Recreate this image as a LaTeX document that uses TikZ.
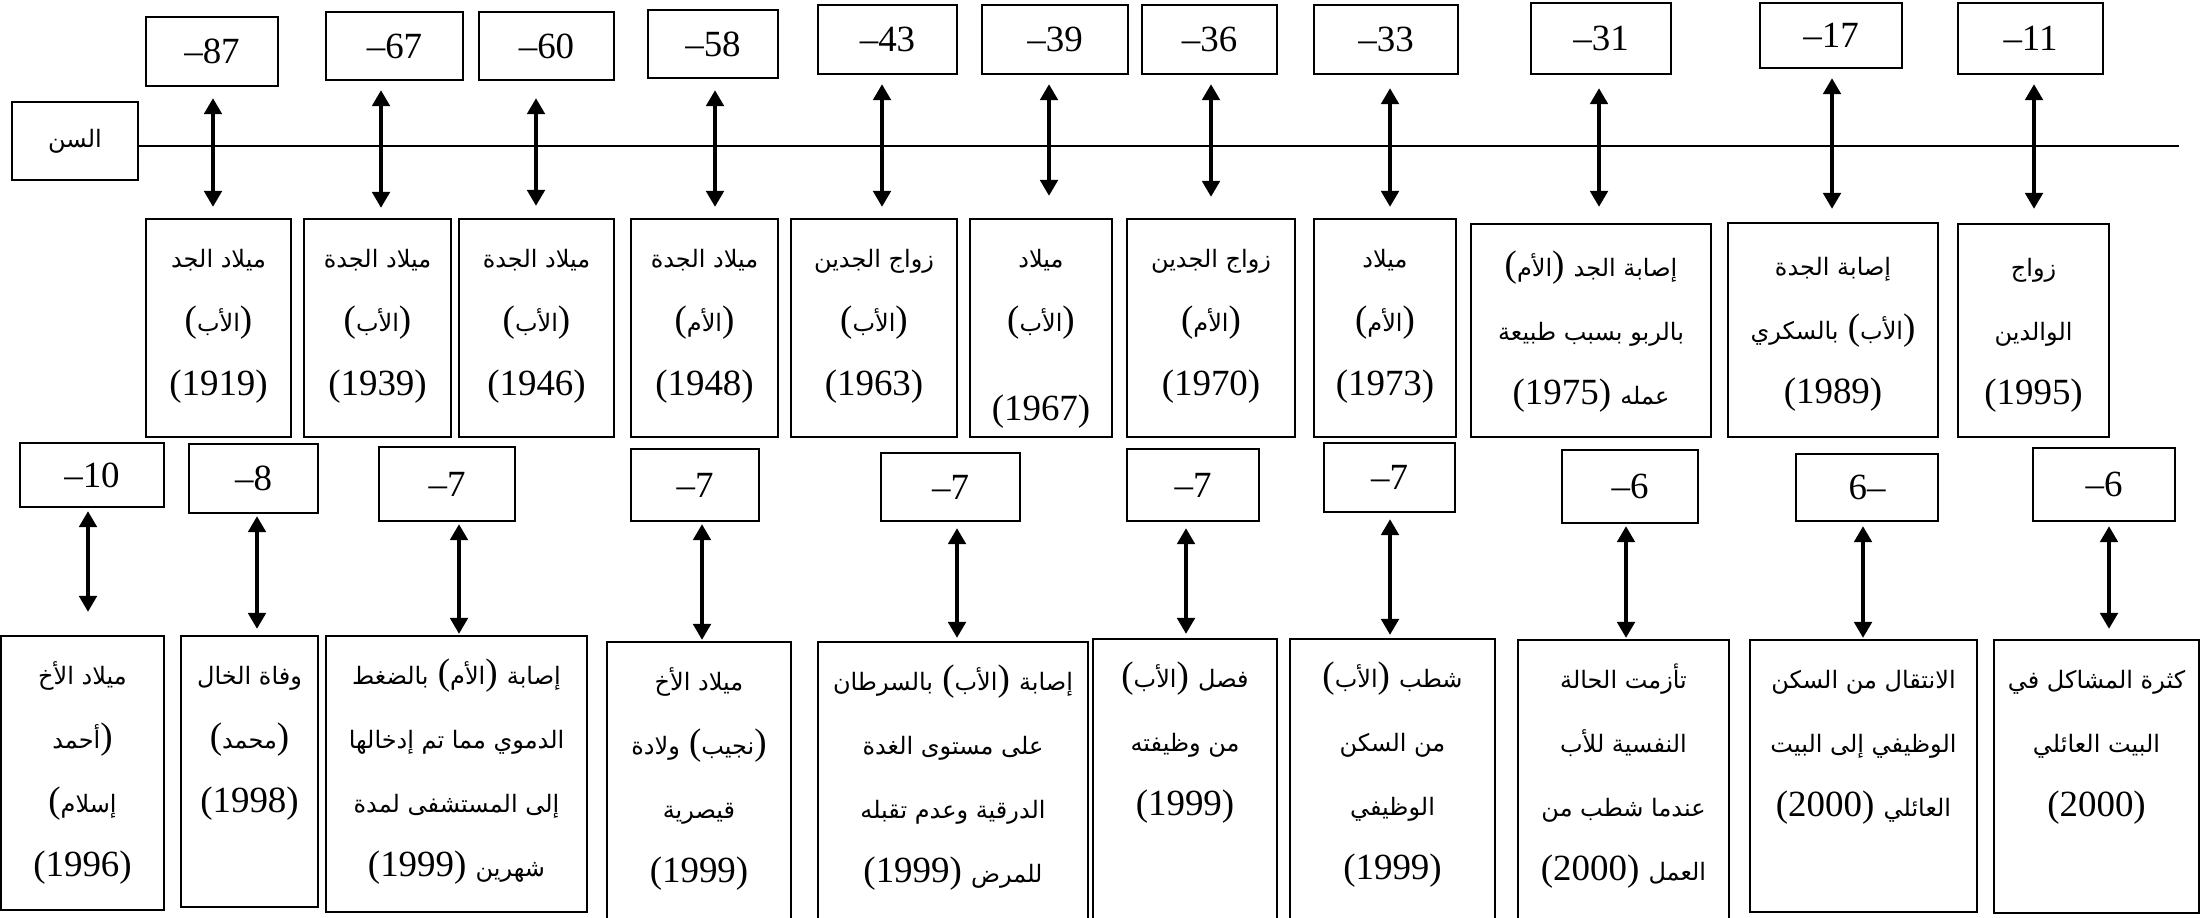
\documentclass[tikz,border=0pt]{standalone}
\usepackage{fontspec}
\setmainfont{Liberation Serif}
\newfontfamily\arabicfont[Script=Arabic,Scale=0.65]{DejaVu Sans}
\TeXXeTstate=1
\usetikzlibrary{arrows.meta}

% Arabic run, right-to-left line, parenthesised group kept left-to-right
\newcommand\arw[1]{{\arabicfont #1}}
\newcommand\rtlrow[1]{\beginR#1\endR}
\newcommand\inpar[1]{\beginL(#1)\endL}
\newcommand\firstline{\rule{0pt}{14pt}}
\newcommand\valfont{\fontsize{10.5}{12}\selectfont}
\newcommand\evfont{\fontsize{10.5}{18.2}\selectfont}

% rectangle node given by its corners (x1,y1) (x2,y2)
\newcommand\boxnode[6]{\node[#1, minimum width={(#5-#3)*0.01cm}, minimum height={(#6-#4)*0.01cm}] (#2) at ({(#3+#5)/2},{(#4+#6)/2})}
% double arrow between a value box and its event box at a given x
\newcommand\linkv[5]{\coordinate (#1x) at (#3,0);
  \draw[link, shorten <=#4, shorten >=#5] (#1.south -| #1x) -- (#2.north -| #1x);}

\begin{document}
\begin{tikzpicture}[x=0.01cm, y=-0.01cm,
  every node/.style={inner sep=0pt},
  frame/.style={draw, line width=0.7pt},
  valbox/.style={frame, font=\valfont},
  evbox/.style={frame},
  evtext/.style={anchor=north, align=center, font=\evfont},
  tline/.style={line width=0.7pt},
  link/.style={line width=0.9pt, {Triangle[length=4.5pt,width=5pt]}-{Triangle[length=4.5pt,width=5pt]}}]

\path[fill=white, use as bounding box] (0,0) rectangle (2201,917);

% age axis
\boxnode{valbox}{age}{12}{102}{138}{180} {\arw{\beginR السن\endR}};
\coordinate (lineend) at (2179,146);
\draw[tline] (age.east |- lineend) -- (lineend);

% ---------- upper row: ages ----------
\boxnode{valbox}{t1}{146}{17}{278}{86} {–87};
\boxnode{valbox}{t2}{326}{12}{463}{80} {–67};
\boxnode{valbox}{t3}{479}{12}{614}{80} {–60};
\boxnode{valbox}{t4}{648}{10}{778}{78} {–58};
\boxnode{valbox}{t5}{818}{5}{957}{74} {–43};
\boxnode{valbox}{t6}{982}{5}{1128}{74} {–39};
\boxnode{valbox}{t7}{1142}{5}{1277}{74} {–36};
\boxnode{valbox}{t8}{1314}{5}{1458}{74} {–33};
\boxnode{valbox}{t9}{1531}{3}{1671}{74} {–31};
\boxnode{valbox}{t10}{1760}{3}{1902}{68} {–17};
\boxnode{valbox}{t11}{1958}{3}{2103}{74} {–11};

% ---------- upper row: events ----------
\boxnode{evbox}{e1}{146}{219}{291}{437} {};
\boxnode{evbox}{e2}{304}{219}{451}{437} {};
\boxnode{evbox}{e3}{459}{219}{614}{437} {};
\boxnode{evbox}{e4}{631}{219}{778}{437} {};
\boxnode{evbox}{e5}{791}{219}{957}{437} {};
\boxnode{evbox}{e6}{970}{219}{1112}{437} {};
\boxnode{evbox}{e7}{1127}{219}{1295}{437} {};
\boxnode{evbox}{e8}{1314}{219}{1456}{437} {};
\boxnode{evbox}{e9}{1471}{224}{1711}{437} {};
\boxnode{evbox}{e10}{1728}{223}{1938}{437} {};
\boxnode{evbox}{e11}{1958}{224}{2109}{437} {};

\node[evtext] (e1t) at (e1.north) {\firstline\rtlrow{\arw{ميلاد الجد}}\\\rtlrow{\inpar{\arw{الأب}}}\\(1919)};
\node[evtext] (e2t) at (e2.north) {\firstline\rtlrow{\arw{ميلاد الجدة}}\\\rtlrow{\inpar{\arw{الأب}}}\\(1939)};
\node[evtext] (e3t) at (e3.north) {\firstline\rtlrow{\arw{ميلاد الجدة}}\\\rtlrow{\inpar{\arw{الأب}}}\\(1946)};
\node[evtext] (e4t) at (e4.north) {\firstline\rtlrow{\arw{ميلاد الجدة}}\\\rtlrow{\inpar{\arw{الأم}}}\\(1948)};
\node[evtext] (e5t) at (e5.north) {\firstline\rtlrow{\arw{زواج الجدين}}\\\rtlrow{\inpar{\arw{الأب}}}\\(1963)};
\node[evtext] (e6t) at (e6.north) {\firstline\rtlrow{\arw{ميلاد}}\\\rtlrow{\inpar{\arw{الأب}}}\\[0.25cm](1967)};
\node[evtext] (e7t) at (e7.north) {\firstline\rtlrow{\arw{زواج الجدين}}\\\rtlrow{\inpar{\arw{الأم}}}\\(1970)};
\node[evtext] (e8t) at (e8.north) {\firstline\rtlrow{\arw{ميلاد}}\\\rtlrow{\inpar{\arw{الأم}}}\\(1973)};
\node[evtext, yshift=-0.04cm] (e9t) at (e9.north) {\firstline\rtlrow{\arw{إصابة الجد} \inpar{\arw{الأم}}}\\\rtlrow{\arw{بالربو بسبب طبيعة}}\\\rtlrow{\arw{عمله} \inpar{1975}}};
\node[evtext, yshift=-0.04cm] (e10t) at (e10.north) {\firstline\rtlrow{\arw{إصابة الجدة}}\\\rtlrow{\inpar{\arw{الأب}} \arw{بالسكري}}\\(1989)};
\node[evtext, yshift=-0.04cm] (e11t) at (e11.north) {\firstline\rtlrow{\arw{زواج}}\\\rtlrow{\arw{الوالدين}}\\(1995)};

% ---------- lower row: ages ----------
\boxnode{valbox}{v1}{20}{443}{164}{507} {–10};
\boxnode{valbox}{v2}{189}{444}{318}{513} {–8};
\boxnode{valbox}{v3}{379}{447}{515}{521} {–7};
\boxnode{valbox}{v4}{631}{449}{759}{521} {–7};
\boxnode{valbox}{v5}{881}{453}{1020}{521} {–7};
\boxnode{valbox}{v6}{1127}{449}{1259}{521} {–7};
\boxnode{valbox}{v7}{1324}{443}{1455}{512} {–7};
\boxnode{valbox}{v8}{1562}{450}{1698}{523} {–6};
\boxnode{valbox}{v9}{1796}{454}{1938}{521} {\beginL 6\kern0pt–\endL};
\boxnode{valbox}{v10}{2033}{448}{2175}{521} {–6};

% ---------- lower row: events ----------
\boxnode{evbox}{b1}{1}{636}{164}{910} {};
\boxnode{evbox}{b2}{181}{636}{318}{907} {};
\boxnode{evbox}{b3}{326}{636}{587}{912} {};
\boxnode{evbox}{b4}{607}{642}{791}{940} {};
\boxnode{evbox}{b5}{818}{642}{1088}{940} {};
\boxnode{evbox}{b6}{1093}{639}{1277}{940} {};
\boxnode{evbox}{b7}{1290}{639}{1495}{940} {};
\boxnode{evbox}{b8}{1518}{640}{1729}{940} {};
\boxnode{evbox}{b9}{1750}{640}{1977}{912} {};
\boxnode{evbox}{b10}{1994}{640}{2199}{913} {};

% the name in brackets runs over two lines: bracket right of the first word, left of the second
\node[evtext] (b1t) at (b1.north) {\firstline\rtlrow{\arw{ميلاد الأخ}}\\\beginL\arw{أحمد})\endL\\\beginL(\arw{إسلام}\endL\\(1996)};
\node[evtext] (b2t) at (b2.north) {\firstline\rtlrow{\arw{وفاة الخال}}\\\rtlrow{\inpar{\arw{محمد}}}\\(1998)};
\node[evtext] (b3t) at (b3.north) {\firstline\rtlrow{\arw{إصابة} \inpar{\arw{الأم}} \arw{بالضغط}}\\\rtlrow{\arw{الدموي مما تم إدخالها}}\\\rtlrow{\arw{إلى المستشفى لمدة}}\\\rtlrow{\arw{شهرين} \inpar{1999}}};
\node[evtext] (b4t) at (b4.north) {\firstline\rtlrow{\arw{ميلاد الأخ}}\\\rtlrow{\inpar{\arw{نجيب}} \arw{ولادة}}\\\rtlrow{\arw{قيصرية}}\\(1999)};
\node[evtext] (b5t) at (b5.north) {\firstline\rtlrow{\arw{إصابة} \inpar{\arw{الأب}} \arw{بالسرطان}}\\\rtlrow{\arw{على مستوى الغدة}}\\\rtlrow{\arw{الدرقية وعدم تقبله}}\\\rtlrow{\arw{للمرض} \inpar{1999}}};
\node[evtext] (b6t) at (b6.north) {\firstline\rtlrow{\arw{فصل} \inpar{\arw{الأب}}}\\\rtlrow{\arw{من وظيفته}}\\(1999)};
\node[evtext] (b7t) at (b7.north) {\firstline\rtlrow{\arw{شطب} \inpar{\arw{الأب}}}\\\rtlrow{\arw{من السكن}}\\\rtlrow{\arw{الوظيفي}}\\(1999)};
\node[evtext] (b8t) at (b8.north) {\firstline\rtlrow{\arw{تأزمت الحالة}}\\\rtlrow{\arw{النفسية للأب}}\\\rtlrow{\arw{عندما شطب من}}\\\rtlrow{\arw{العمل} \inpar{2000}}};
\node[evtext] (b9t) at (b9.north) {\firstline\rtlrow{\arw{الانتقال من السكن}}\\\rtlrow{\arw{الوظيفي إلى البيت}}\\\rtlrow{\arw{العائلي} \inpar{2000}}};
\node[evtext] (b10t) at (b10.north) {\firstline\rtlrow{\arw{كثرة المشاكل في}}\\\rtlrow{\arw{البيت العائلي}}\\(2000)};

% ---------- connectors ----------
\linkv{t1}{e1}{213}{0.11cm}{0.11cm}
\linkv{t2}{e2}{381}{0.09cm}{0.10cm}
\linkv{t3}{e3}{536}{0.17cm}{0.12cm}
\linkv{t4}{e4}{715}{0.11cm}{0.11cm}
\linkv{t5}{e5}{882}{0.09cm}{0.11cm}
\linkv{t6}{e6}{1049}{0.09cm}{0.22cm}
\linkv{t7}{e7}{1211}{0.09cm}{0.21cm}
\linkv{t8}{e8}{1390}{0.13cm}{0.11cm}
\linkv{t9}{e9}{1599}{0.13cm}{0.16cm}
\linkv{t10}{e10}{1832}{0.09cm}{0.13cm}
\linkv{t11}{e11}{2034}{0.09cm}{0.14cm}

\linkv{v1}{b1}{88}{0.03cm}{0.23cm}
\linkv{v2}{b2}{257}{0.02cm}{0.06cm}
\linkv{v3}{b3}{459}{0.02cm}{0.01cm}
\linkv{v4}{b4}{702}{0.02cm}{0.01cm}
\linkv{v5}{b5}{957}{0.06cm}{0.03cm}
\linkv{v6}{b6}{1186}{0.06cm}{0.04cm}
\linkv{v7}{b7}{1390}{0.06cm}{0.03cm}
\linkv{v8}{b8}{1626}{0.02cm}{0.01cm}
\linkv{v9}{b9}{1863}{0.04cm}{0.01cm}
\linkv{v10}{b10}{2109}{0.04cm}{0.10cm}
\end{tikzpicture}
\end{document}
